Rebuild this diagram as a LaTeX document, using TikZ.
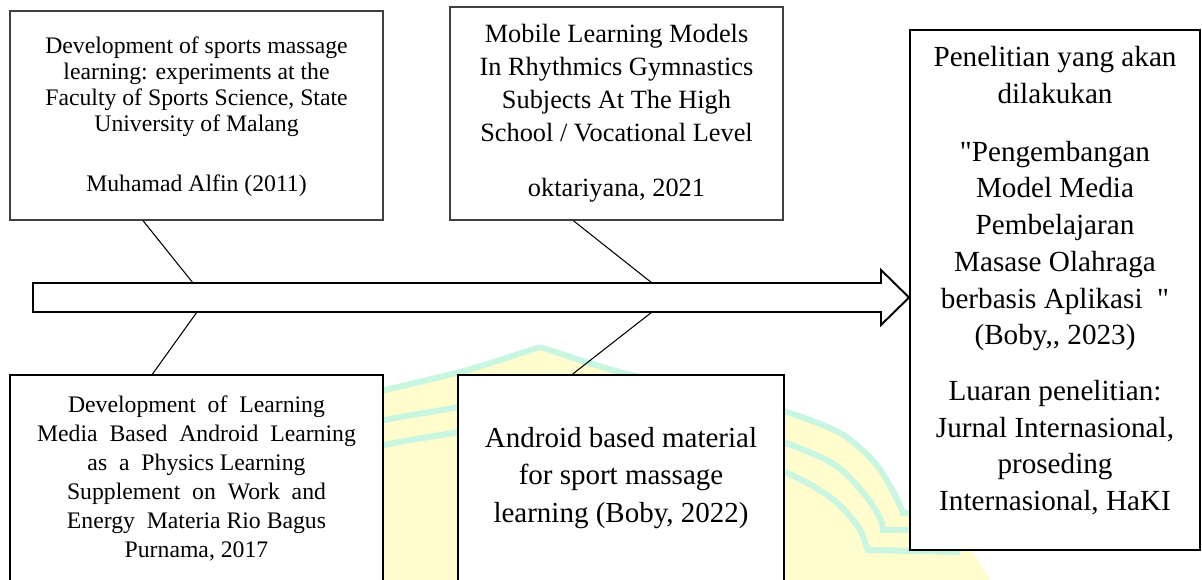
\documentclass[tikz,border=0pt]{standalone}
\usepackage{fontspec}
\setmainfont{Liberation Serif}[Ligatures=TeXOff]
\definecolor{wmyellow}{RGB}{255,252,206}
\definecolor{wmgreen}{RGB}{200,246,224}
\tikzstyle{thinbox}=[shape=rectangle, draw=black!75, fill=white,
                  line width=0.7pt, align=center, inner sep=0pt]
\tikzstyle{boldbox}=[shape=rectangle, draw=black, fill=white,
                  line width=1pt, align=center, inner sep=0pt]
\tikzstyle{flow}=[draw=black, fill=white, line width=1.1pt, line join=miter]
\tikzstyle{link}=[line width=0.6pt]
\tikzstyle{band}=[draw=wmgreen, line width=3.4pt]

\begin{document}
\begin{tikzpicture}[x=0.02cm, y=-0.02cm]
\clip (0,0) rectangle (1202,580);

% watermark
\fill[wmyellow] plot[smooth] coordinates {(177,513) (185,495) (205,463) (240,433)
  (300,410) (385,390) (460,372) (500,360) (540,347)}
  -- plot[smooth] coordinates {(540,347) (580,360) (620,372) (695,390) (780,410)
  (840,433) (875,463) (895,495) (903,513)}
  -- (950,513) -- (990,580) -- (90,580) -- (130,513) -- cycle;
\foreach \s/\o in {1/0, -1/1080}{
  \begin{scope}[shift={(\o,0)}, xscale=\s]
    \draw[band] plot[smooth] coordinates {(540,347) (580,360) (620,372) (695,390)
      (780,410) (840,433) (875,463) (895,495) (903,513)} -- (940,513);
    \draw[band] plot[smooth] coordinates {(540,383) (580,395) (622,407) (695,420)
      (780,441) (835,465) (865,495) (880,518) (883,530)} -- (940,530);
    \draw[band] plot[smooth] coordinates {(540,410) (580,421) (622,432) (695,445)
      (780,470) (830,497) (857,525) (866,545) (868,550)} -- (960,552);
  \end{scope}
}

% nodes
\node[thinbox, minimum width=7.46cm, minimum height=4.18cm,
      font=\fontsize{13.5}{14.8}\selectfont] (alfin) at (196.5,115.5)
  {Development of sports massage\\ learning: experiments at the\\
   Faculty of Sports Science, State\\ University of Malang\\[0.68cm]
   Muhamad Alfin (2011)\\[-0.46cm]\mbox{}};
\node[thinbox, minimum width=6.66cm, minimum height=4.26cm,
      font=\fontsize{15}{18.8}\selectfont] (okta) at (616.5,113.5)
  {Mobile Learning Models\\ In Rhythmics Gymnastics\\ Subjects At The High\\
   School / Vocational Level\\[0.44cm] oktariyana, 2021};
\node[boldbox, minimum width=5.8cm, minimum height=10.4cm,
      font=\fontsize{16.6}{20.9}\selectfont] (boby23) at (1055,290)
  {Penelitian yang akan\\ dilakukan\\[0.42cm] "Pengembangan\\ Model Media\\
   Pembelajaran\\ Masase Olahraga\\ berbasis Aplikasi~~"\\ (Boby,, 2023)\\[0.38cm]
   Luaran penelitian:\\ Jurnal Internasional,\\ proseding\\ Internasional, HaKI\\[-0.28cm]
   \mbox{}};
\node[boldbox, minimum width=7.46cm, minimum height=4.12cm,
      font=\fontsize{13.5}{16.5}\selectfont] (rio) at (196.5,478)
  {Development\ \ of\ \ Learning\\ Media\ \ Based\ \ Android\ \ Learning\\
   as\ \ a\ \ Physics Learning\\ Supplement\ \ on\ \ Work\ \ and\\
   Energy\ \ Materia Rio Bagus\\ Purnama, 2017};
\node[boldbox, minimum width=6.52cm, minimum height=4.12cm,
      font=\fontsize{16.5}{21.3}\selectfont] (boby22) at (621,478)
  {Android based material\\ for sport massage\\ learning (Boby, 2022)};

% arrow
\draw[flow] (33,283) -- (881,283) -- (881,270) -- (909,297.5) -- (881,325)
  -- (881,312) -- (33,312) -- cycle;
\coordinate (t1) at (193,283);
\coordinate (t2) at (652,283);
\coordinate (b1) at (197,312);
\coordinate (b2) at (652,312);

% paths
\draw[link] (alfin.243.8) -- (t1);
\draw[link] (okta.248.7) -- (t2);
\draw[link] (rio.113.4) -- (b1);
\draw[link] (boby22.115) -- (b2);

\end{tikzpicture}
\end{document}
